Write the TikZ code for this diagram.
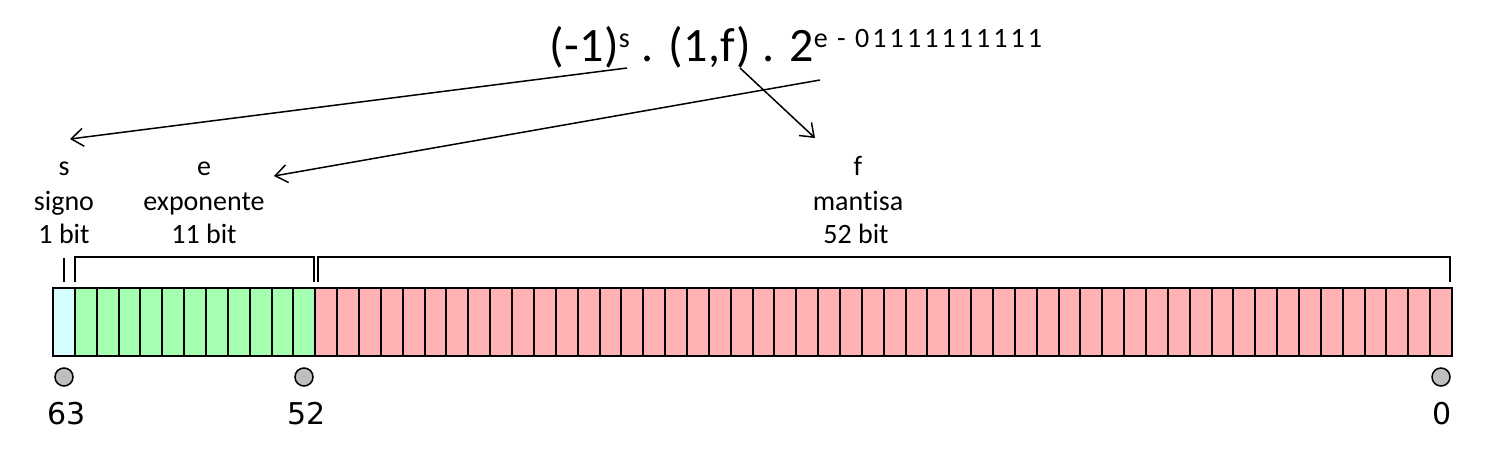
\documentclass[tikz,border=0pt]{standalone}
\usepackage{fontspec}
\setmainfont{Carlito}[Ligatures=NoCommon]
\newfontfamily\formfont{Carlito}[LetterSpace=1,Ligatures=NoCommon]
\newfontfamily\supfont{Carlito}[LetterSpace=11,Ligatures=NoCommon]
\newfontfamily\numfont{DejaVu Sans}
\usetikzlibrary{arrows.meta}
\tikzset{>={Straight Barb[length=12pt,width=18pt]}}
\definecolor{signcol}{RGB}{213,255,255}
\definecolor{expcol}{RGB}{166,255,176}
\definecolor{mantcol}{RGB}{255,179,181}
\definecolor{dotcol}{RGB}{191,191,191}
\tikzstyle{bitcell}=[draw,line width=2pt]
\tikzstyle{bracket}=[line width=2pt]
\tikzstyle{pointer}=[->,line width=1.5pt]
\tikzstyle{fieldlabel}=[anchor=base,inner sep=0pt,font=\fontsize{28}{34}\selectfont]
\tikzstyle{bitdot}=[circle,draw,line width=1.5pt,fill=dotcol,minimum size=18pt,inner sep=0pt]
\tikzstyle{bitnum}=[anchor=base,inner sep=0pt,font=\numfont\fontsize{30}{36}\selectfont]
\newcommand{\supx}[1]{\raisebox{14.5pt}{\supfont\fontsize{28}{32}\selectfont #1}}

\begin{document}
\begin{tikzpicture}[x=1pt,y=-1pt]
                \useasboundingbox (0,0) rectangle (1500,460);
                \def\bw{21.86}
                \def\xl{53}
                \def\yt{288}
                \def\hb{68}
                % formula
                \node[anchor=base west,inner sep=0pt,font=\formfont\fontsize{48}{52}\selectfont] (formula) at (549,62)
                  {(-1)\supx{s} . (1,f) . 2\supx{e - 01111111111}};
                % field labels
                \node[fieldlabel] (sname) at (64,175) {s};
                \node[fieldlabel] (sword) at (64,210) {signo};
                \node[fieldlabel] (sbits) at (64,243) {1 bit};
                \node[fieldlabel] (ename) at (204,175) {e};
                \node[fieldlabel] (eword) at (204,210) {exponente};
                \node[fieldlabel] (ebits) at (204,243) {11 bit};
                \node[fieldlabel] (fname) at (858,175) {f};
                \node[fieldlabel] (fword) at (858,210) {mantisa};
                \node[fieldlabel] (fbits) at (856,243) {52 bit};
                % pointers from the formula
                \coordinate (sfrom) at (627,68);
                \coordinate (sto) at (70,139);
                \coordinate (efrom) at (820,80);
                \coordinate (eto) at (274,176);
                \coordinate (ffrom) at (740,68);
                \coordinate (fto) at (815,138);
                \draw[pointer] (sfrom) -- (sto);
                \draw[pointer] (efrom) -- (eto);
                \draw[pointer] (ffrom) -- (fto);
                % brackets
                \draw[bracket] (64,258) -- (64,282);
                \draw[bracket] (75,282) -- (75,257) -- (314,257) -- (314,282);
                \draw[bracket] (318,282) -- (318,257) -- (1450,257) -- (1450,282);
                % bit cells
                \draw[bitcell,fill=signcol] (\xl,\yt) rectangle ++(\bw,\hb);
                \foreach \i in {1,...,11}
                  \draw[bitcell,fill=expcol] ({\xl+\i*\bw},\yt) rectangle ++(\bw,\hb);
                \foreach \i in {12,...,63}
                  \draw[bitcell,fill=mantcol] ({\xl+\i*\bw},\yt) rectangle ++(\bw,\hb);
                % bit positions
                \node[bitdot] (dot63) at (64,377) {};
                \node[bitdot] (dot52) at (304,377) {};
                \node[bitdot] (dot0) at (1441,377) {};
                \node[bitnum] (num63) at (67,424) {63};
                \node[bitnum] (num52) at (307,424) {52};
                \node[bitnum] (num0) at (1442,424) {0};
              \end{tikzpicture}
\end{document}
